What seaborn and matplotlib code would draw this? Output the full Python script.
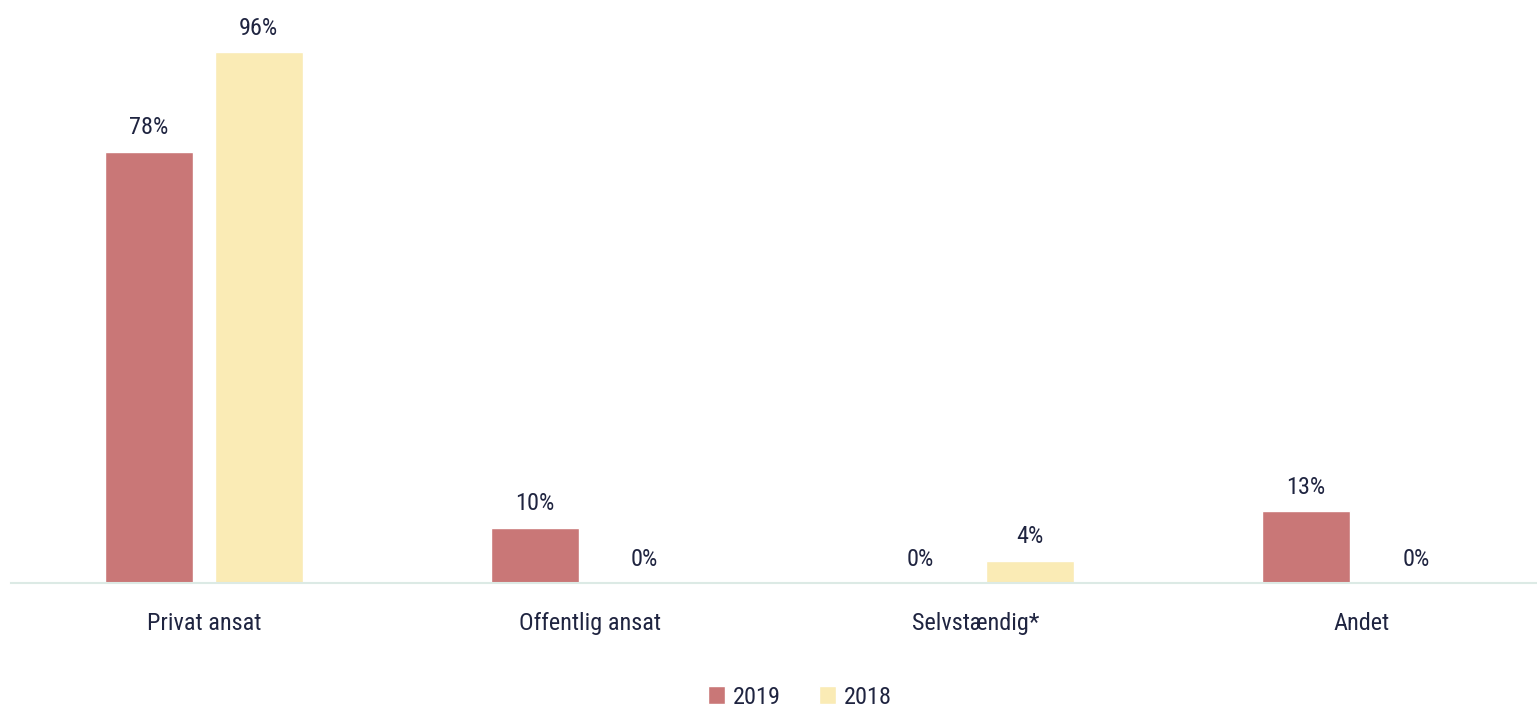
import pandas as pd
import matplotlib.pyplot as plt
import seaborn as sns

# --- data ---
categories = ['Privat ansat', 'Offentlig ansat', 'Selvstændig*', 'Andet']
years = ['2019', '2018']
values_2019 = [78, 10, 0, 13]
values_2018 = [96, 0, 4, 0]

df = pd.DataFrame({
    'kategori': categories * 2,
    'år': ['2019'] * 4 + ['2018'] * 4,
    'andel': values_2019 + values_2018,
})

# --- style ---
sns.set_style('white')
# narrow face if one is around, otherwise DejaVu
plt.rcParams['font.family'] = ['Liberation Sans Narrow', 'Roboto Condensed',
                               'Open Sans Condensed', 'DejaVu Sans']
plt.rcParams['font.stretch'] = 'condensed'
text_color = '#1F2440'
palette = {'2019': '#C97777', '2018': '#FAEBB5'}

fig = plt.figure(figsize=(15.37, 7.11), dpi=100)
ax = fig.add_axes([11 / 1537, 128 / 711, 1526 / 1537, 553 / 711])

sns.barplot(data=df, x='kategori', y='andel', hue='år', hue_order=years,
            palette=palette, width=0.57, gap=0.2, ax=ax, saturation=1)

for cont in ax.containers:
    ax.bar_label(cont, labels=[f'{v:.0f}%' for v in cont.datavalues],
                 padding=9, fontsize=17.5, color=text_color)

ax.set_xlim(-0.5, 3.456)
ax.set_ylim(0, 100)
ax.set_xlabel('')
ax.set_ylabel('')
ax.set_yticks([])
ax.tick_params(axis='x', length=0, pad=21, labelsize=17.5, labelcolor=text_color)
for side in ['top', 'right', 'left']:
    ax.spines[side].set_visible(False)
ax.spines['bottom'].set_color('#DCEAE5')
ax.spines['bottom'].set_linewidth(1.5)

ax.legend(loc='center', bbox_to_anchor=(800 / 1537, 14 / 711),
          bbox_transform=fig.transFigure, ncol=2, frameon=False,
          fontsize=17.5, labelcolor=text_color, handlelength=0.7,
          handleheight=0.7, handletextpad=0.3, columnspacing=1.6)

fig.savefig('out.png', dpi=100)
